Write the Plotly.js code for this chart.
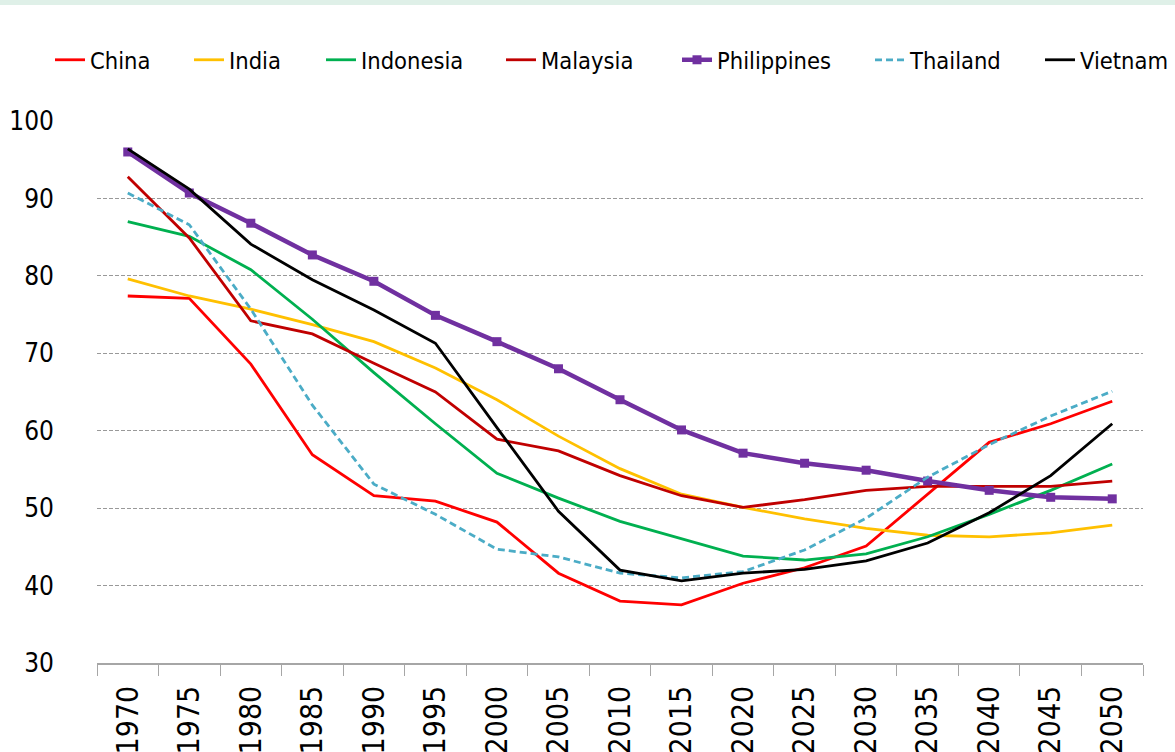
<!DOCTYPE html>
<html>
<head>
<meta charset="utf-8">
<script src="https://cdn.plot.ly/plotly-3.0.1.min.js"></script>
<style>
  html, body { margin: 0; padding: 0; background: #ffffff; }
  #chart { width: 1175px; height: 752px; }
</style>
</head>
<body>
<div id="chart"></div>
<script>
const years = ["1970","1975","1980","1985","1990","1995","2000","2005","2010","2015","2020","2025","2030","2035","2040","2045","2050"];

const china       = [77.4, 77.1, 68.6, 56.9, 51.6, 50.9, 48.2, 41.6, 38.0, 37.5, 40.3, 42.3, 45.1, 51.8, 58.5, 60.9, 63.8];
const india       = [79.6, 77.4, 75.7, 73.7, 71.5, 68.1, 64.0, 59.3, 55.1, 51.8, 50.1, 48.6, 47.4, 46.5, 46.3, 46.8, 47.8];
const indonesia   = [87.0, 85.1, 80.8, 74.4, 67.5, 60.9, 54.5, 51.3, 48.3, 46.0, 43.8, 43.3, 44.1, 46.3, 49.2, 52.3, 55.7];
const malaysia    = [92.8, 84.9, 74.2, 72.5, 68.7, 65.0, 58.9, 57.4, 54.2, 51.6, 50.1, 51.1, 52.3, 52.8, 52.8, 52.8, 53.5];
const philippines = [96.0, 90.7, 86.8, 82.7, 79.3, 74.9, 71.5, 68.0, 64.0, 60.1, 57.1, 55.8, 54.9, 53.5, 52.3, 51.4, 51.2];
const thailand    = [90.7, 86.6, 75.7, 63.3, 53.1, 49.2, 44.7, 43.7, 41.6, 41.0, 41.8, 44.6, 48.7, 54.0, 58.2, 61.9, 65.1];
const vietnam     = [96.4, 91.2, 84.1, 79.5, 75.6, 71.3, 60.4, 49.6, 42.0, 40.6, 41.6, 42.1, 43.2, 45.5, 49.4, 54.2, 60.9];

const FONT = '"DejaVu Sans Condensed", "Liberation Sans Narrow", "DejaVu Sans", sans-serif';

function line(name, y, color, legendId, extra) {
  return Object.assign({
    type: 'scatter', mode: 'lines', name: name, x: years, y: y,
    line: { color: color, width: 2.8 },
    legend: legendId, hoverinfo: 'x+y+name'
  }, extra || {});
}

const traces = [
  line('China', china, '#ff0000', 'legend'),
  line('India', india, '#ffc000', 'legend2'),
  line('Indonesia', indonesia, '#00b050', 'legend3'),
  line('Malaysia', malaysia, '#c00000', 'legend4'),
  line('Philippines', philippines, '#7030a0', 'legend5', {
    mode: 'lines+markers',
    line: { color: '#7030a0', width: 4.5 },
    marker: { symbol: 'square', size: 9, color: '#7030a0' }
  }),
  line('Thailand', thailand, '#4bacc6', 'legend6', { line: { color: '#4bacc6', width: 2.8, dash: '7px,4px' } }),
  line('Vietnam', vietnam, '#000000', 'legend7')
];

const legendTextX = [90, 229, 361, 541, 717, 910, 1080];
const W = 1175, H = 752;
function leg(i) {
  return {
    orientation: 'h', xref: 'container', yref: 'container',
    x: (legendTextX[i] - 40) / W, y: 1 - 60 / H,
    xanchor: 'left', yanchor: 'middle',
    bgcolor: 'rgba(0,0,0,0)', borderwidth: 0,
    font: { family: FONT, size: 23.5, color: '#000000' }
  };
}

const layout = {
  width: W, height: H,
  margin: { l: 97, r: 32, t: 121, b: 89 },
  paper_bgcolor: '#ffffff', plot_bgcolor: '#ffffff',
  font: { family: FONT, color: '#000000' },
  showlegend: true,
  legend: leg(0), legend2: leg(1), legend3: leg(2), legend4: leg(3),
  legend5: leg(4), legend6: leg(5), legend7: leg(6),
  xaxis: {
    type: 'category', range: [-0.5, 16.5],
    tickson: 'boundaries', ticks: 'outside', ticklen: 11, tickwidth: 1, tickcolor: '#a6a6a6',
    showline: true, linecolor: '#a6a6a6', linewidth: 1.5,
    showgrid: false, zeroline: false,
    tickangle: -90, ticklabelstandoff: 9,
    tickfont: { family: FONT, size: 30, color: '#000000' }
  },
  yaxis: {
    range: [30, 100], dtick: 10, tick0: 30,
    showline: false, ticks: '', zeroline: false,
    showgrid: true, gridcolor: '#999999', gridwidth: 1, griddash: '4px,2px',
    ticklabelstandoff: 42,
    tickfont: { family: FONT, size: 26, color: '#000000' }
  },
  shapes: [{
    type: 'rect', xref: 'paper', yref: 'paper',
    x0: -97 / 1046, x1: 1 + 32 / 1046,
    y0: 1 + 116 / 542, y1: 1 + 122 / 542,
    fillcolor: '#dff0e8', line: { width: 0 }, layer: 'below'
  }]
};

Plotly.newPlot('chart', traces, layout, { displayModeBar: false });
</script>
</body>
</html>
